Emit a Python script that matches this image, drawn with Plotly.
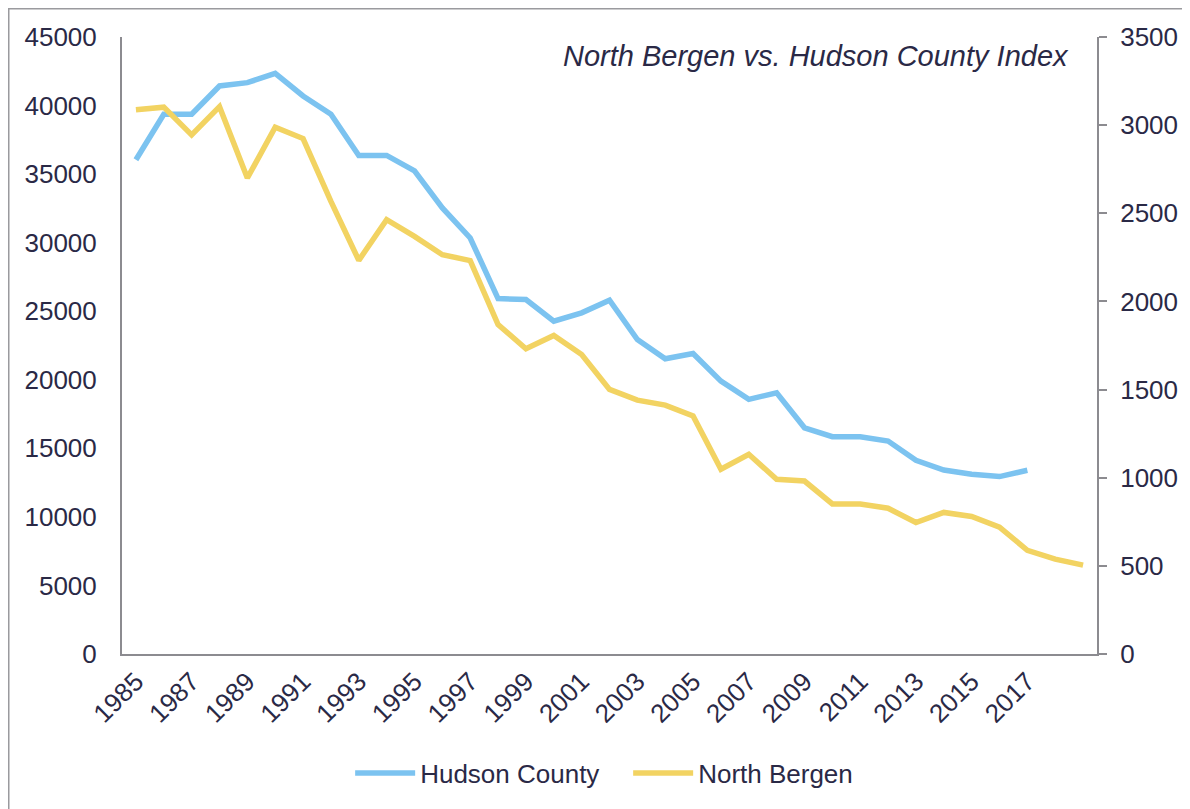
import plotly.graph_objects as go

# Index values
years = [str(y) for y in range(1985, 2020)]

hudson_county = [
    36050, 39370, 39370, 41430, 41670, 42350, 40700, 39370, 36360, 36360,
    35240, 32530, 30340, 25920, 25850, 24270, 24880, 25800, 22940, 21530,
    21920, 19900, 18570, 19050, 16500, 15850, 15850, 15530, 14130, 13420,
    13110, 12940, 13400,
]

north_bergen = [
    3087, 3102, 2945, 3105, 2700, 2988, 2924, 2567, 2233, 2464,
    2369, 2265, 2232, 1869, 1731, 1807, 1699, 1501, 1440, 1412,
    1350, 1048, 1133, 991, 981, 851, 851, 827, 746, 803,
    780, 720, 588, 538, 504,
]

x_tick_labels = years[:33:2]
left_ticks = list(range(0, 45001, 5000))
right_ticks = list(range(0, 3501, 500))

TEXT_COLOR = '#2a2946'
AXIS_COLOR = '#8c8b90'
FONT = 'Liberation Sans, Arial, sans-serif'

fig = go.Figure()

fig.add_trace(go.Scatter(
    x=years[:len(hudson_county)],
    y=hudson_county,
    mode='lines',
    name='Hudson County',
    line=dict(color='#7cc3f0', width=5.5),
    yaxis='y',
))

fig.add_trace(go.Scatter(
    x=years,
    y=north_bergen,
    mode='lines',
    name='North Bergen',
    line=dict(color='#f2d362', width=5.5),
    yaxis='y2',
))

# page has an 8px body margin, so the figure is sized to what is left of the window
fig.update_layout(
    width=1182,
    height=801,
    plot_bgcolor='#FFFFFF',
    paper_bgcolor='#FFFFFF',
    font={'color': TEXT_COLOR, 'family': FONT, 'size': 26},
    margin={'l': 114, 'r': 93, 't': 29, 'b': 155},
    showlegend=True,
    legend=dict(
        orientation='h',
        x=0.234,
        xanchor='left',
        y=-0.193,
        yanchor='middle',
        font=dict(size=26, color=TEXT_COLOR),
        itemwidth=60,
        entrywidth=203,
        entrywidthmode='pixels',
        bgcolor='rgba(0,0,0,0)',
    ),
    xaxis={
        'type': 'category',
        'range': [-0.5, len(years) - 0.5],
        'tickvals': x_tick_labels,
        'ticktext': x_tick_labels,
        'tickangle': -45,
        'showgrid': False,
        'showline': True,
        'linecolor': AXIS_COLOR,
        'linewidth': 2,
        'ticks': '',
        'tickfont': {'size': 26, 'color': TEXT_COLOR},
        'zeroline': False,
    },
    yaxis={
        'range': [0, 45000],
        'tickvals': left_ticks,
        'ticktext': [str(v) for v in left_ticks],
        'showgrid': False,
        'showline': True,
        'linecolor': AXIS_COLOR,
        'linewidth': 2,
        'ticks': '',
        'ticklabelstandoff': 18,
        'tickfont': {'size': 26, 'color': TEXT_COLOR},
        'zeroline': False,
    },
    yaxis2={
        'range': [0, 3500],
        'tickvals': right_ticks,
        'ticktext': [str(v) for v in right_ticks],
        'overlaying': 'y',
        'side': 'right',
        'showgrid': False,
        'showline': True,
        'linecolor': AXIS_COLOR,
        'linewidth': 2,
        'ticks': 'outside',
        'ticklen': 8,
        'tickwidth': 2,
        'tickcolor': AXIS_COLOR,
        'ticklabelstandoff': 8,
        'tickfont': {'size': 26, 'color': TEXT_COLOR},
        'zeroline': False,
    },
    annotations=[dict(
        text='<i>North Bergen vs. Hudson County Index</i>',
        xref='paper', yref='paper',
        x=0.973, y=0.969,
        xanchor='right', yanchor='middle',
        showarrow=False,
        font=dict(size=29, color=TEXT_COLOR, family=FONT),
    )],
    shapes=[dict(
        type='rect',
        xref='paper', yref='paper',
        x0=-0.1164, x1=1.2, y0=-0.4, y1=1.0462,
        line=dict(color='#9a9a9e', width=2),
        fillcolor='rgba(0,0,0,0)',
        layer='below',
    )],
)

fig.write_html("out.html")
